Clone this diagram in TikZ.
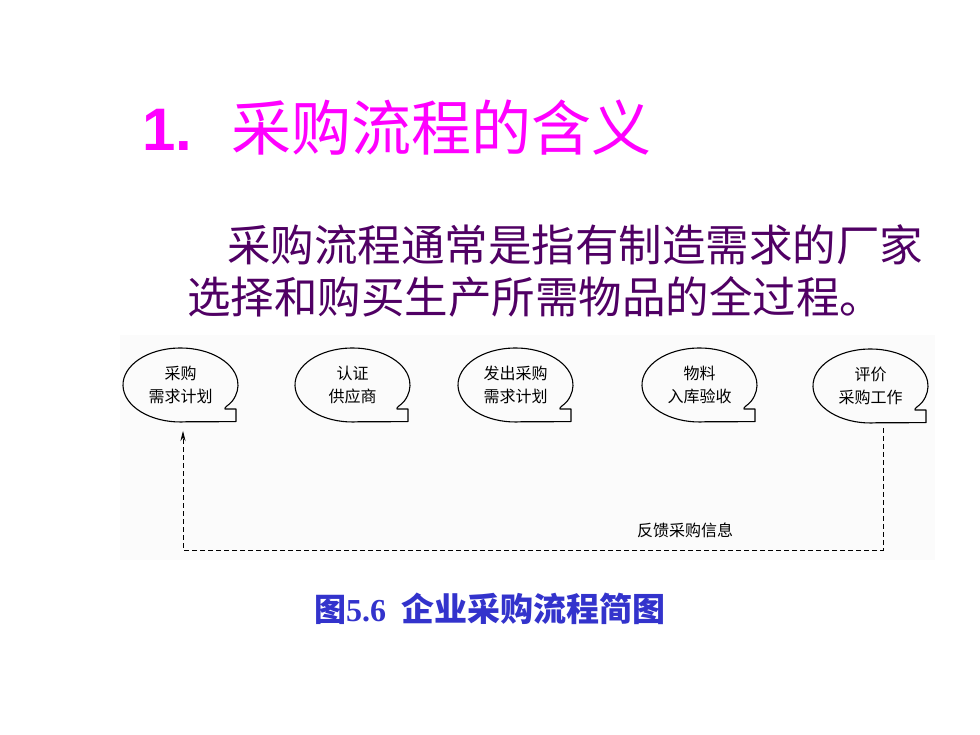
\documentclass[tikz,border=0pt]{standalone}
\usepackage{fontspec}
\usetikzlibrary{arrows.meta}
\newfontfamily\cjk{Noto Sans CJK SC}
\newfontfamily\sansA{Liberation Sans}
\newfontfamily\serifT{Liberation Serif}
\definecolor{titlemag}{RGB}{255,0,255}
\definecolor{bodypur}{RGB}{80,0,100}
\definecolor{capblue}{RGB}{51,51,204}
\begin{document}
\begin{tikzpicture}[x=1pt,y=1pt,
  btxt/.style={font=\cjk\fontsize{16}{23}\selectfont, align=center, inner sep=0pt},
  bub/.style={draw=black, line width=1.1pt, line join=round},
  fb/.style={draw=black, line width=0.8pt, dash pattern=on 5pt off 3pt}]
\useasboundingbox (0,0) rectangle (980,735);
\fill[white] (0,0) rectangle (980,735);
\fill[black!1.5] (120,175) rectangle (935,400);
% title
\node[anchor=base west, inner sep=0pt, text=titlemag, font=\sansA\bfseries\fontsize{60}{60}\selectfont] (tnum) at (142,584) {1.};
\node[anchor=base west, inner sep=0pt, text=titlemag, font=\cjk\fontsize{60}{60}\selectfont] (ttl) at (231,584) {采购流程的含义};
% body
\node[anchor=base west, inner sep=0pt, text=bodypur, font=\cjk\fontsize{43.5}{52}\selectfont] (p1) at (227,473.5) {采购流程通常是指有制造需求的厂家};
\node[anchor=base west, inner sep=0pt, text=bodypur, font=\cjk\fontsize{43.5}{52}\selectfont] (p2) at (187,421.5) {选择和购买生产所需物品的全过程。};
% bubbles
\node[btxt] (b1) at (180.5,350) {采购\\需求计划};
\node[btxt] (b2) at (352.5,350) {认证\\供应商};
\node[btxt] (b3) at (515.5,350) {发出采购\\需求计划};
\node[btxt] (b4) at (699.5,350) {物料\\入库验收};
\node[btxt] (b5) at (870.5,349) {评价\\采购工作};
\foreach \n in {b1,b2,b3,b4,b5}{
  \begin{scope}[shift={(\n.center)}]
    \draw[bub] (-83:57.5 and 37) arc[start angle=-83, end angle=-385, x radius=57.5, y radius=37]
      .. controls (49,-20) and (43,-22.5) .. (44.5,-24) -- (55.5,-24) -- (55.5,-36.7) -- (-83:57.5 and 37) -- cycle;
  \end{scope}
}
% feedback loop
\coordinate (fR1) at (883,307);
\coordinate (fR2) at (883,185);
\coordinate (fL) at (183,185);
\coordinate (fTop) at (183,304);
\draw[fb, -{Stealth[length=10pt,width=5pt]}] (fR1) -- (fR2) -- (fL) -- (fTop);
\node[font=\cjk\fontsize{16}{16}\selectfont] (fbl) at (685,205) {反馈采购信息};
% caption
\node[anchor=base west, inner sep=0pt, text=capblue] (cap) at (314,113)
  {{\cjk\bfseries\fontsize{32}{32}\selectfont 图}{\serifT\bfseries\fontsize{32}{32}\selectfont 5.6}\hspace{15pt}{\cjk\bfseries\fontsize{33}{33}\selectfont 企业采购流程简图}};
\end{tikzpicture}
\end{document}
